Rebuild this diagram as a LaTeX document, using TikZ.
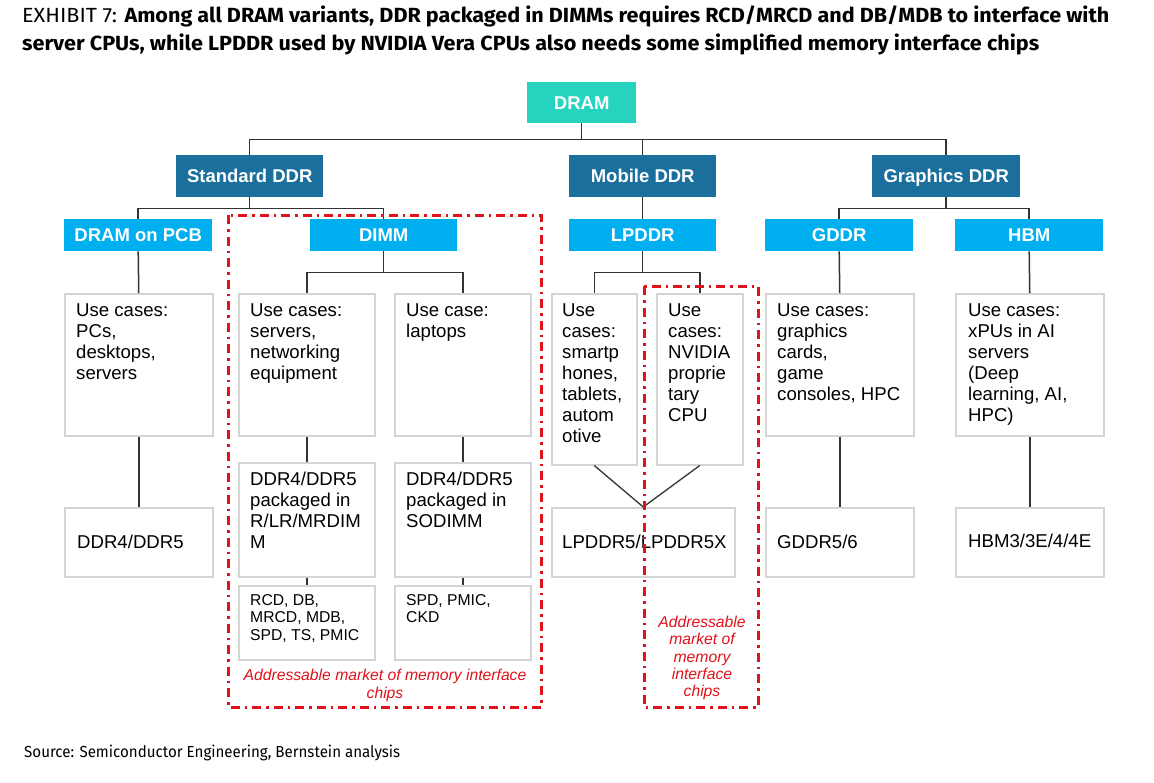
\documentclass[tikz,border=0pt]{standalone}
\usepackage{fontspec}
\setmainfont{Liberation Sans}
\newfontfamily\fira{Fira Sans}
\usepackage{graphicx}
\definecolor{dramteal}{HTML}{26D3BE}
\definecolor{darkblue}{HTML}{1B6F9D}
\definecolor{lightblue}{HTML}{00AFEF}
\definecolor{boxgray}{HTML}{D4D4D4}
\definecolor{linegray}{HTML}{333333}
\definecolor{redline}{HTML}{E0121B}
\begin{document}
\begin{tikzpicture}[x=1pt,y=-1pt,
  conn/.style={draw=linegray, line width=1.5pt},
  hdr/.style={anchor=north west, inner sep=0, minimum width=147pt, minimum height=42pt, text=white, fill=darkblue, text height=13.3pt, text depth=0pt, font=\fontsize{18.5}{21}\selectfont\bfseries},
  subhdr/.style={hdr, minimum height=32pt, fill=lightblue},
  ubox/.style={anchor=north west, inner sep=0, draw=boxgray, line width=1.5pt, fill=white},
  btext/.style={anchor=north west, inner sep=0, align=left, font=\fontsize{18.6}{21}\selectfont},
  stext/.style={anchor=north west, inner sep=0, align=left, font=\fontsize{15.7}{17.7}\selectfont},
  ctext/.style={anchor=west, inner sep=0, font=\fontsize{18.6}{21}\selectfont},
  redbox/.style={draw=redline, line width=3pt, dash pattern=on 9pt off 5pt on 2.5pt off 5pt},
  redtext/.style={inner sep=0, align=center, text=redline, font=\fontsize{15.7}{17.3}\selectfont\itshape}
]
\fill[white] (0,0) rectangle (1154,782);
\useasboundingbox (0,0) rectangle (1154,782);

% title
\node[anchor=west, inner sep=0] (title1) at (22,16) {\resizebox{1087pt}{\height}{\fontsize{20.5}{24}\selectfont\fira EXHIBIT 7: \bfseries Among all DRAM variants, DDR packaged in DIMMs requires RCD/MRCD and DB/MDB to interface with}};
\node[anchor=west, inner sep=0] (title2) at (22,44) {\resizebox{1017pt}{\height}{\fontsize{20.5}{24}\selectfont\fira\bfseries server CPUs, while LPDDR used by NVIDIA Vera CPUs also needs some simplified memory interface chips}};

% header boxes
\node[hdr, fill=dramteal, minimum width=109pt, minimum height=41pt] (dram) at (527,82) {DRAM};
\node[hdr] (std) at (176,155) {Standard DDR};
\node[hdr] (mob) at (569,155) {Mobile DDR};
\node[hdr, minimum width=148pt] (gfx) at (872,155) {Graphics DDR};
\node[subhdr, minimum width=148pt] (pcb) at (64,219) {DRAM on PCB};
\node[subhdr] (dimm) at (310,219) {DIMM};
\node[subhdr] (lp) at (569,219) {LPDDR};
\node[subhdr, minimum width=148pt] (gddr) at (765,219) {GDDR};
\node[subhdr, minimum width=148pt] (hbm) at (955,219) {HBM};

% use-case boxes
\node[ubox, minimum width=148pt, minimum height=142pt] (pcbuse) at (64,293) {};
\node[ubox, minimum width=136pt, minimum height=142pt] (servuse) at (238,293) {};
\node[ubox, minimum width=136pt, minimum height=142pt] (lapuse) at (394,293) {};
\node[ubox, minimum width=85pt, minimum height=171pt] (smart) at (551,293) {};
\node[ubox, minimum width=86pt, minimum height=171pt] (nvid) at (656,293) {};
\node[ubox, minimum width=148pt, minimum height=142pt] (gdduse) at (765,293) {};
\node[ubox, minimum width=148pt, minimum height=142pt] (hbmuse) at (955,293) {};

% memory boxes
\node[ubox, minimum width=148pt, minimum height=69pt] (pcbddr) at (64,507) {};
\node[ubox, minimum width=136pt, minimum height=114pt] (rlr) at (238,462) {};
\node[ubox, minimum width=136pt, minimum height=114pt] (sod) at (394,462) {};
\node[ubox, minimum width=183pt, minimum height=69pt] (lp5) at (551,507) {};
\node[ubox, minimum width=148pt, minimum height=69pt] (gdd5) at (765,507) {};
\node[ubox, minimum width=148pt, minimum height=69pt] (hbm3) at (955,507) {};

% chip boxes
\node[ubox, minimum width=136pt, minimum height=74pt] (rcd) at (238,585) {};
\node[ubox, minimum width=136pt, minimum height=74pt] (spd) at (394,585) {};

% texts
\node[btext] (pcbuset) at (76,301.3) {\strut Use cases:\\PCs,\\desktops,\\servers};
\node[btext] (servuset) at (250,301.3) {\strut Use cases:\\servers,\\networking\\equipment};
\node[btext] (lapuset) at (406,301.3) {\strut Use case:\\laptops};
\node[btext] (smartt) at (562,301.3) {\strut Use\\cases:\\smartp\\hones,\\tablets,\\autom\\otive};
\node[btext] (nvidt) at (668,301.3) {\strut Use\\cases:\\NVIDIA\\proprie\\tary\\CPU};
\node[btext] (gdduset) at (777,301.3) {\strut Use cases:\\graphics\\cards,\\game\\consoles, HPC};
\node[btext] (hbmuset) at (968,301.3) {\strut Use cases:\\xPUs in AI\\servers\\(Deep\\learning, AI,\\HPC)};
\node[btext] (rlrt) at (250,470.3) {\strut DDR4/DDR5\\packaged in\\R/LR/MRDIM\\M};
\node[btext] (sodt) at (406,470.3) {\strut DDR4/DDR5\\packaged in\\SODIMM};
\node[stext] (rcdt) at (250,592.6) {\strut RCD, DB,\\MRCD, MDB,\\SPD, TS, PMIC};
\node[stext] (spdt) at (406,592.6) {\strut SPD, PMIC,\\CKD};
\node[ctext] (pcbddrt) at (77,541.5) {DDR4/DDR5};
\node[ctext] (lp5t) at (562,541.5) {LPDDR5/LPDDR5X};
\node[ctext] (gdd5t) at (777,541.5) {GDDR5/6};
\node[ctext] (hbm3t) at (968,541) {HBM3/3E/4/4E};

% connectors
\draw[conn] (dram.south) -- ++(0,16) -| (std.north);
\draw[conn] (dram.south) -- ++(0,16) -| (mob.north);
\draw[conn] (dram.south) -- ++(0,16) -| (gfx.north);
\draw[conn] (std.south) -- ++(0,11) -| (pcb.north);
\draw[conn] (std.south) -- ++(0,11) -| (dimm.north);
\draw[conn] (dimm.south) -- ++(0,21) -| (servuse.north);
\draw[conn] (dimm.south) -- ++(0,21) -| (lapuse.north);
\draw[conn] (pcb.south) -- (pcbuse.north);
\draw[conn] (pcbuse.south) -- (pcbddr.north);
\draw[conn] (servuse.south) -- (rlr.north);
\draw[conn] (rlr.south) -- (rcd.north);
\draw[conn] (lapuse.south) -- (sod.north);
\draw[conn] (sod.south) -- (spd.north);
\draw[conn] (mob.south) -- (lp.north);
\draw[conn] (lp.south) -- ++(0,21) -| (smart.north);
\draw[conn] (lp.south) -- ++(0,21) -| (nvid.north);
\draw[conn, line width=1.3pt] (smart.south) -- (lp5.north);
\draw[conn, line width=1.3pt] (nvid.south) -- (lp5.north);
\draw[conn] (gfx.south) -- ++(0,11) -| (gddr.north);
\draw[conn] (gfx.south) -- ++(0,11) -| (hbm.north);
\draw[conn] (gddr.south) -- (gdduse.north);
\draw[conn] (gdduse.south) -- (gdd5.north);
\draw[conn] (hbm.south) -- (hbmuse.north);
\draw[conn] (hbmuse.south) -- (hbm3.north);

% red addressable-market outlines
\draw[redbox] (228,215) rectangle (541,707);
\draw[redbox] (644,286) rectangle (758,707);
\node[redtext] (dimmred) at (385,685.5) {Addressable market of memory interface\\chips};
\node[redtext] (lpred) at (702,658) {Addressable\\market of\\memory\\interface\\chips};

% source
\node[anchor=west, inner sep=0] (src) at (24,753) {\resizebox{376pt}{\height}{\fontsize{16}{19}\selectfont\fira Source: Semiconductor Engineering, Bernstein analysis}};
\end{tikzpicture}
\end{document}
